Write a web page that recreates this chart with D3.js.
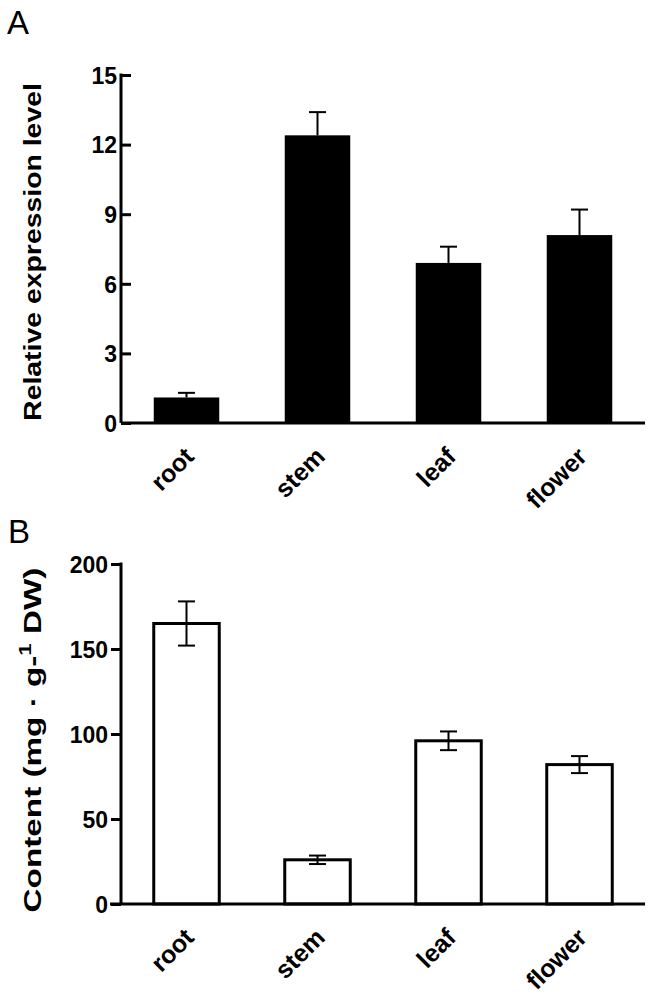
<!DOCTYPE html>
<html>
<head>
<meta charset="utf-8">
<script src="https://cdn.jsdelivr.net/npm/d3@7"></script>
<style>
  html, body { margin: 0; padding: 0; background: #fff; }
  svg { display: block; }
  text { font-family: "Liberation Sans", Arial, sans-serif; }
</style>
</head>
<body>
<svg id="chart" width="650" height="999"></svg>
<script>
// ---- data ----
const categories = ["root", "stem", "leaf", "flower"];
const expressionMean = [1.1, 12.4, 6.9, 8.1];
const expressionErr = [0.2, 1.0, 0.7, 1.1];
const expressionTicks = [0, 3, 6, 9, 12, 15];
const contentMean = [165, 26, 96, 82];
const contentErr = [13, 2.5, 5.5, 5];
const contentTicks = [0, 50, 100, 150, 200];

const svg = d3.select("#chart");

const x = d3.scaleBand().domain(categories).range([121, 645])
  .paddingInner(0.5).paddingOuter(0.25);

function stretchLabel(sel, cx, cy, target) {
  const w = sel.node().getComputedTextLength();
  sel.attr("transform", `translate(${cx},${cy}) rotate(-90) scale(${target / w},1)`);
}

// ---------- Panel A ----------
const yA = d3.scaleLinear().domain([0, 15]).range([423, 75]);
const gA = svg.append("g");

gA.append("text").attr("x", 7).attr("y", 34)
  .attr("font-size", 33).text("A");

gA.selectAll("rect.bar").data(categories).join("rect")
  .attr("class", "bar")
  .attr("x", d => x(d)).attr("width", x.bandwidth())
  .attr("y", (d, i) => yA(expressionMean[i]))
  .attr("height", (d, i) => yA(0) - yA(expressionMean[i]))
  .attr("fill", "#000");

// error bars (upper only)
const errA = gA.selectAll("g.err").data(categories).join("g").attr("class", "err");
errA.append("line")
  .attr("x1", d => x(d) + x.bandwidth() / 2).attr("x2", d => x(d) + x.bandwidth() / 2)
  .attr("y1", (d, i) => yA(expressionMean[i]))
  .attr("y2", (d, i) => yA(expressionMean[i] + expressionErr[i]))
  .attr("stroke", "#000").attr("stroke-width", 2);
errA.append("line")
  .attr("x1", d => x(d) + x.bandwidth() / 2 - 8.5).attr("x2", d => x(d) + x.bandwidth() / 2 + 8.5)
  .attr("y1", (d, i) => yA(expressionMean[i] + expressionErr[i]))
  .attr("y2", (d, i) => yA(expressionMean[i] + expressionErr[i]))
  .attr("stroke", "#000").attr("stroke-width", 2);

// y axis A (inward ticks)
const axA = gA.append("g").attr("transform", "translate(121,0)")
  .call(d3.axisLeft(yA).tickValues(expressionTicks).tickSize(-10).tickPadding(4).tickFormat(d3.format("d")));
axA.select(".domain").remove();
axA.selectAll(".tick line").attr("stroke", "#000").attr("stroke-width", 3);
axA.selectAll(".tick text").attr("font-size", 23).attr("font-weight", "bold")
  .attr("fill", "#000").attr("x", -4).attr("dy", "0.36em")
  .attr("font-family", "Liberation Sans, Arial, sans-serif");
gA.append("line").attr("x1", 121).attr("x2", 121).attr("y1", yA(15) - 1.5).attr("y2", yA(0))
  .attr("stroke", "#000").attr("stroke-width", 3);
gA.append("line").attr("x1", 121).attr("x2", 645).attr("y1", yA(0)).attr("y2", yA(0))
  .attr("stroke", "#000").attr("stroke-width", 3);

// x labels A
gA.selectAll("text.xl").data(categories).join("text").attr("class", "xl")
  .attr("text-anchor", "end").attr("font-size", 25).attr("font-weight", "bold")
  .attr("transform", d => `translate(${x(d) + x.bandwidth() / 2 + 9},${yA(0) + 35}) rotate(-45)`)
  .text(d => d);

const ylA = gA.append("text").attr("text-anchor", "middle")
  .attr("font-size", 24).attr("font-weight", "bold")
  .text("Relative expression level");
stretchLabel(ylA, 41, 252, 338);

// ---------- Panel B ----------
const yB = d3.scaleLinear().domain([0, 200]).range([904, 564]);
const gB = svg.append("g");

gB.append("text").attr("x", 8).attr("y", 543)
  .attr("font-size", 33).text("B");

gB.selectAll("rect.bar").data(categories).join("rect")
  .attr("class", "bar")
  .attr("x", d => x(d)).attr("width", x.bandwidth())
  .attr("y", (d, i) => yB(contentMean[i]))
  .attr("height", (d, i) => yB(0) - yB(contentMean[i]))
  .attr("fill", "#fff").attr("stroke", "#000").attr("stroke-width", 3);

const errB = gB.selectAll("g.err").data(categories).join("g").attr("class", "err");
errB.append("line")
  .attr("x1", d => x(d) + x.bandwidth() / 2).attr("x2", d => x(d) + x.bandwidth() / 2)
  .attr("y1", (d, i) => yB(contentMean[i] - contentErr[i]))
  .attr("y2", (d, i) => yB(contentMean[i] + contentErr[i]))
  .attr("stroke", "#000").attr("stroke-width", 2);
[1, -1].forEach(s => {
  errB.append("line")
    .attr("x1", d => x(d) + x.bandwidth() / 2 - 8.5).attr("x2", d => x(d) + x.bandwidth() / 2 + 8.5)
    .attr("y1", (d, i) => yB(contentMean[i] + s * contentErr[i]))
    .attr("y2", (d, i) => yB(contentMean[i] + s * contentErr[i]))
    .attr("stroke", "#000").attr("stroke-width", 2);
});

const axB = gB.append("g").attr("transform", "translate(121,0)")
  .call(d3.axisLeft(yB).tickValues(contentTicks).tickSize(10).tickPadding(3).tickFormat(d3.format("d")));
axB.select(".domain").remove();
axB.selectAll(".tick line").attr("stroke", "#000").attr("stroke-width", 3);
axB.selectAll(".tick text").attr("font-size", 23).attr("font-weight", "bold")
  .attr("fill", "#000").attr("dy", "0.36em")
  .attr("font-family", "Liberation Sans, Arial, sans-serif");
gB.append("line").attr("x1", 121).attr("x2", 121).attr("y1", yB(200) - 1.5).attr("y2", yB(0))
  .attr("stroke", "#000").attr("stroke-width", 3);
gB.append("line").attr("x1", 110).attr("x2", 645).attr("y1", yB(0)).attr("y2", yB(0))
  .attr("stroke", "#000").attr("stroke-width", 3);

gB.selectAll("text.xl").data(categories).join("text").attr("class", "xl")
  .attr("text-anchor", "end").attr("font-size", 25).attr("font-weight", "bold")
  .attr("transform", d => `translate(${x(d) + x.bandwidth() / 2 + 9},${yB(0) + 35}) rotate(-45)`)
  .text(d => d);

const ylB = gB.append("text").attr("text-anchor", "middle")
  .attr("font-size", 24).attr("font-weight", "bold");
ylB.append("tspan").text("Content (mg \u00B7 g-");
ylB.append("tspan").attr("font-size", 16).attr("dy", -10).text("1");
ylB.append("tspan").attr("dy", 10).text(" DW)");
stretchLabel(ylB, 41, 740, 345);
</script>
</body>
</html>
